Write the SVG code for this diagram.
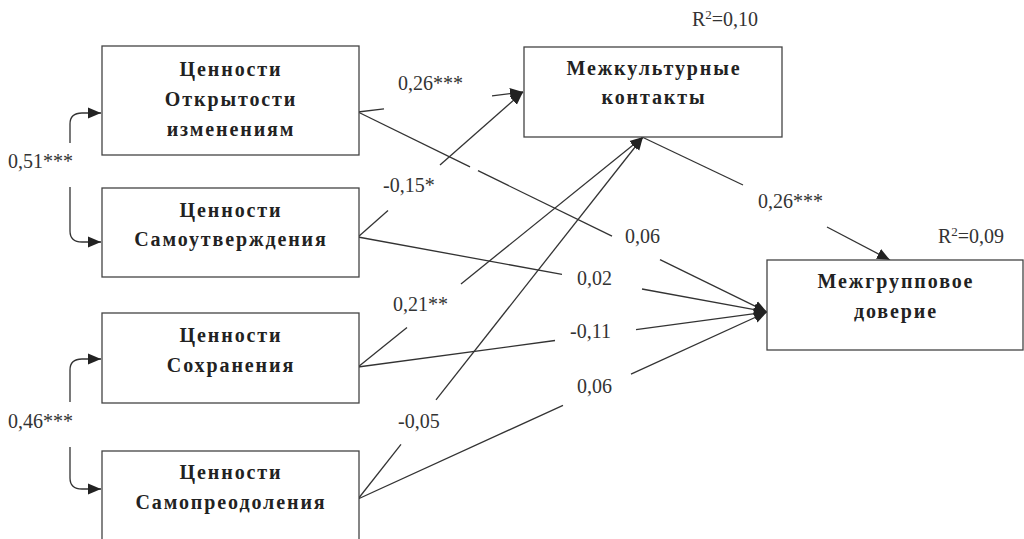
<svg xmlns="http://www.w3.org/2000/svg" width="1024" height="539" viewBox="0 0 1024 539">
<style>
.box{fill:#fff;stroke:#444;stroke-width:1.3}
.bt{font-family:"Liberation Serif","DejaVu Serif",serif;font-weight:bold;font-size:20px;letter-spacing:1.9px;fill:#222;text-anchor:middle}
.lbl{font-family:"Liberation Serif","DejaVu Serif",serif;font-size:20px;fill:#333}
.ln{stroke:#333;stroke-width:1.3;fill:none}
</style>
<defs>
<marker id="ah" markerUnits="userSpaceOnUse" markerWidth="14" markerHeight="12" refX="13" refY="6" orient="auto">
<path d="M0,0.5 L13,6 L0,11.5 z" fill="#222"/>
</marker>
</defs>
<rect width="1024" height="539" fill="#fff"/>
<g id="connectors">
<path class="ln" d="M70,143 V124 Q70,113 82,113 H101" marker-end="url(#ah)"/>
<path class="ln" d="M70,187 V231 Q70,242 82,242 H101" marker-end="url(#ah)"/>
<path class="ln" d="M70,402 V370 Q70,359 82,359 H101" marker-end="url(#ah)"/>
<path class="ln" d="M70,447 V478 Q70,489 82,489 H101" marker-end="url(#ah)"/>
<line class="ln" x1="358" y1="112" x2="384" y2="108.8"/>
<line class="ln" x1="492" y1="95.8" x2="523" y2="92" marker-end="url(#ah)"/>
<line class="ln" x1="358" y1="112" x2="470" y2="166.8"/>
<line class="ln" x1="478" y1="170.7" x2="612" y2="236.2"/>
<line class="ln" x1="660" y1="259.7" x2="767" y2="312" marker-end="url(#ah)"/>
<line class="ln" x1="358" y1="237" x2="388" y2="210.6"/>
<line class="ln" x1="440" y1="164.9" x2="523" y2="92" marker-end="url(#ah)"/>
<line class="ln" x1="358" y1="237" x2="562" y2="274.4"/>
<line class="ln" x1="642" y1="289" x2="767" y2="312" marker-end="url(#ah)"/>
<line class="ln" x1="358" y1="367" x2="407" y2="327.5"/>
<line class="ln" x1="461" y1="283.9" x2="643" y2="137" marker-end="url(#ah)"/>
<line class="ln" x1="358" y1="367" x2="555" y2="340.5"/>
<line class="ln" x1="636" y1="329.6" x2="767" y2="312" marker-end="url(#ah)"/>
<line class="ln" x1="358" y1="499" x2="401" y2="444.4"/>
<line class="ln" x1="436" y1="399.9" x2="643" y2="137" marker-end="url(#ah)"/>
<line class="ln" x1="358" y1="499" x2="563" y2="405.3"/>
<line class="ln" x1="631" y1="374.2" x2="767" y2="312" marker-end="url(#ah)"/>
<line class="ln" x1="642" y1="137" x2="743" y2="185"/>
<line class="ln" x1="827" y1="227" x2="890" y2="260" marker-end="url(#ah)"/>
</g>
<g id="labels">
<text class="lbl" x="8" y="168">0,51***</text>
<text class="lbl" x="8" y="428">0,46***</text>
<text class="lbl" x="398" y="90">0,26***</text>
<text class="lbl" x="383" y="192">-0,15*</text>
<text class="lbl" x="625" y="243">0,06</text>
<text class="lbl" x="577" y="285">0,02</text>
<text class="lbl" x="393" y="311">0,21**</text>
<text class="lbl" x="570" y="338">-0,11</text>
<text class="lbl" x="577" y="393">0,06</text>
<text class="lbl" x="398" y="428">-0,05</text>
<text class="lbl" x="758" y="208">0,26***</text>
<text class="lbl" x="692" y="26">R<tspan font-size="13" dy="-7">2</tspan><tspan dy="7">=0,10</tspan></text>
<text class="lbl" x="938" y="243">R<tspan font-size="13" dy="-7">2</tspan><tspan dy="7">=0,09</tspan></text>
</g>
<g id="n1">
<rect class="box" x="102" y="46" width="257" height="109"/>
<text class="bt" x="231" y="76">Ценности</text>
<text class="bt" x="231" y="106">Открытости</text>
<text class="bt" x="231" y="136">изменениям</text>
</g>
<g id="n2">
<rect class="box" x="102" y="188" width="257" height="89"/>
<text class="bt" x="231" y="217">Ценности</text>
<text class="bt" x="231" y="246">Самоутверждения</text>
</g>
<g id="n3">
<rect class="box" x="102" y="313" width="257" height="90"/>
<text class="bt" x="231" y="342">Ценности</text>
<text class="bt" x="231" y="372">Сохранения</text>
</g>
<g id="n4">
<rect class="box" x="102" y="451" width="257" height="92"/>
<text class="bt" x="231" y="479">Ценности</text>
<text class="bt" x="231" y="509">Самопреодоления</text>
</g>
<g id="n5">
<rect class="box" x="524" y="47" width="258" height="90"/>
<text class="bt" x="654" y="75">Межкультурные</text>
<text class="bt" x="654" y="104">контакты</text>
</g>
<g id="n6">
<rect class="box" x="767" y="260" width="256" height="90"/>
<text class="bt" x="896" y="288">Межгрупповое</text>
<text class="bt" x="896" y="318">доверие</text>
</g>
</svg>
